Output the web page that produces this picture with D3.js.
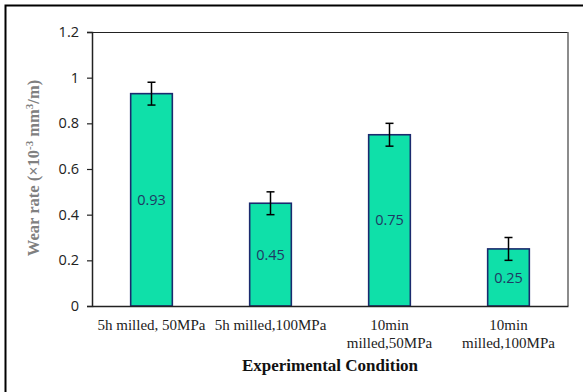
<!DOCTYPE html>
<html>
<head>
<meta charset="utf-8">
<script src="https://cdn.jsdelivr.net/npm/d3@7"></script>
<style>
  body { margin: 0; background: #fff; }
  svg { display: block; }
</style>
</head>
<body>
<div id="chart"></div>
<script>
// data
var conditions = [
  ["5h milled, 50MPa"],
  ["5h milled,100MPa"],
  ["10min", "milled,50MPa"],
  ["10min", "milled,100MPa"]
];
var wearRate = [0.93, 0.45, 0.75, 0.25];
var errors = [0.05, 0.05, 0.05, 0.05];
var yTicks = [0, 0.2, 0.4, 0.6, 0.8, 1, 1.2];

var W = 583, H = 392;
var m = { left: 92, right: 15, top: 32, bottom: 86 };

var svg = d3.select('#chart').append('svg')
  .attr('width', W)
  .attr('height', H);

// outer frame (only top/left are visible in the crop)
svg.append('rect')
  .attr('x', 5.5).attr('y', 5.5)
  .attr('width', W + 10).attr('height', H + 10)
  .attr('fill', 'none')
  .attr('stroke', '#000')
  .attr('stroke-width', 2);

var x = d3.scaleBand()
  .domain(d3.range(wearRate.length))
  .range([m.left, W - m.right])
  .paddingInner(0.65)
  .paddingOuter(0.325);

var y = d3.scaleLinear()
  .domain([0, 1.2])
  .range([H - m.bottom, m.top]);

var g = svg.append('g');

// plot area box: top black, right gray
g.append('line')
  .attr('x1', m.left).attr('x2', W - m.right)
  .attr('y1', m.top + 0.5).attr('y2', m.top + 0.5)
  .attr('stroke', '#222').attr('stroke-width', 1);
g.append('line')
  .attr('x1', W - m.right).attr('x2', W - m.right)
  .attr('y1', m.top).attr('y2', H - m.bottom)
  .attr('stroke', '#666').attr('stroke-width', 1.5);

// bars
g.selectAll('rect.bar').data(wearRate)
  .enter().append('rect')
  .attr('class', 'bar')
  .attr('x', function (d, i) { return x(i); })
  .attr('y', function (d) { return y(d); })
  .attr('width', x.bandwidth())
  .attr('height', function (d) { return y(0) - y(d); })
  .attr('fill', '#0fe0a9')
  .attr('stroke', '#1b2a6e')
  .attr('stroke-width', 1.6);

// error bars
var eb = g.selectAll('g.err').data(wearRate)
  .enter().append('g')
  .attr('class', 'err')
  .attr('transform', function (d, i) { return 'translate(' + (x(i) + x.bandwidth() / 2) + ',0)'; });
eb.append('line')
  .attr('x1', 0).attr('x2', 0)
  .attr('y1', function (d, i) { return y(d + errors[i]); })
  .attr('y2', function (d, i) { return y(d - errors[i]); })
  .attr('stroke', '#000').attr('stroke-width', 1.5);
eb.selectAll('line.cap').data(function (d, i) { return [d + errors[i], d - errors[i]]; })
  .enter().append('line')
  .attr('class', 'cap')
  .attr('x1', -4).attr('x2', 4)
  .attr('y1', function (d) { return y(d); })
  .attr('y2', function (d) { return y(d); })
  .attr('stroke', '#000').attr('stroke-width', 1.5);

// value labels in the middle of each bar
g.selectAll('text.val').data(wearRate)
  .enter().append('text')
  .attr('class', 'val')
  .attr('x', function (d, i) { return x(i) + x.bandwidth() / 2; })
  .attr('y', function (d) { return (y(d) + y(0)) / 2; })
  .attr('dy', '0.35em')
  .attr('text-anchor', 'middle')
  .attr('font-family', 'Open Sans, sans-serif')
  .attr('font-size', 14.5)
  .attr('fill', '#1f3864')
  .text(function (d) { return d.toFixed(2); });

// y axis
var yAxis = g.append('g')
  .attr('transform', 'translate(' + m.left + ',0)')
  .call(d3.axisLeft(y).tickValues(yTicks).tickSize(5).tickPadding(8)
    .tickFormat(function (d) { return d3.format('')(+d.toFixed(1)); }));
yAxis.select('.domain').attr('stroke', '#222').attr('stroke-width', 1.5);
yAxis.selectAll('.tick line').attr('stroke', '#222').attr('stroke-width', 1.2);
yAxis.selectAll('.tick text')
  .attr('font-family', 'Open Sans, sans-serif')
  .attr('font-size', 14.5)
  .attr('fill', '#222');

// x axis
var xAxis = g.append('g')
  .attr('transform', 'translate(0,' + y(0) + ')')
  .call(d3.axisBottom(x).tickSize(0).tickFormat(''));
xAxis.select('.domain').attr('stroke', '#222').attr('stroke-width', 1.5);

g.selectAll('text.cat').data(conditions)
  .enter().append('text')
  .attr('class', 'cat')
  .attr('x', function (d, i) { return x(i) + x.bandwidth() / 2; })
  .attr('y', y(0) + 24)
  .attr('text-anchor', 'middle')
  .attr('font-family', 'Liberation Serif, serif')
  .attr('font-size', 15)
  .attr('fill', '#222')
  .selectAll('tspan').data(function (d) { return d; })
  .enter().append('tspan')
  .attr('x', function () { return this.parentNode.getAttribute('x'); })
  .attr('dy', function (d, i) { return i ? 18 : 0; })
  .text(function (d) { return d; });

// axis titles
svg.append('text')
  .attr('x', (m.left + W - m.right) / 2)
  .attr('y', 371)
  .attr('text-anchor', 'middle')
  .attr('font-family', 'Liberation Serif, serif')
  .attr('font-weight', 'bold')
  .attr('font-size', 17)
  .attr('fill', '#111')
  .text('Experimental Condition');

var yt = svg.append('text')
  .attr('transform', 'translate(39,' + ((m.top + H - m.bottom) / 2 - 1) + ') rotate(-90)')
  .attr('text-anchor', 'middle')
  .attr('font-family', 'Liberation Serif, serif')
  .attr('font-weight', 'bold')
  .attr('font-size', 16.5)
  .attr('fill', '#808080');
yt.append('tspan').text('Wear rate (\u00d710');
yt.append('tspan').attr('dy', -6).attr('font-size', 11).text('-3');
yt.append('tspan').attr('dy', 6).text(' mm');
yt.append('tspan').attr('dy', -6).attr('font-size', 11).text('3');
yt.append('tspan').attr('dy', 6).text('/m)');
</script>
</body>
</html>
